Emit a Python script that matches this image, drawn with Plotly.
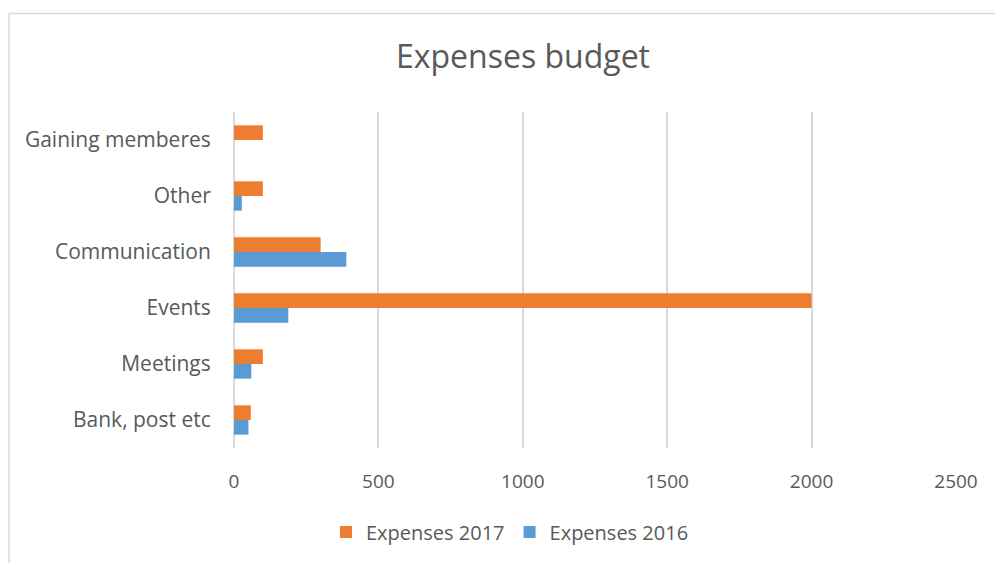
import plotly.graph_objects as go

# Expense categories (bottom to top) and yearly amounts
categories = ["Bank, post etc", "Meetings", "Events", "Communication", "Other", "Gaining memberes"]
expenses_2016 = [50, 60, 188, 389, 27, 0]
expenses_2017 = [58, 100, 2000, 300, 100, 100]
x_ticks = [0, 500, 1000, 1500, 2000, 2500]

W, H = 995, 563
L, R, T, B = 234, 39, 112, 115
pw, ph = W - L - R, H - T - B

text_col = "#595959"
grid_col = "#D9D9D9"
font_family = "Open Sans"

fig = go.Figure()
fig.add_trace(go.Bar(
    y=categories, x=expenses_2016, orientation="h", name="Expenses 2016",
    marker=dict(color="#5B9BD5", line=dict(width=0)),
))
fig.add_trace(go.Bar(
    y=categories, x=expenses_2017, orientation="h", name="Expenses 2017",
    marker=dict(color="#ED7D31", line=dict(width=0)),
))

# Outer chart frame (left and top edges visible)
fx0 = (9 - L) / pw
fy1 = (H - B - 13.5) / ph
fig.add_shape(type="line", xref="paper", yref="paper", x0=fx0, x1=fx0, y0=-1, y1=fy1,
              line=dict(color=grid_col, width=1.5))
fig.add_shape(type="line", xref="paper", yref="paper", x0=fx0, x1=2, y0=fy1, y1=fy1,
              line=dict(color=grid_col, width=1.5))

fig.update_layout(
    width=W, height=H,
    margin=dict(l=L, r=R, t=T, b=B),
    paper_bgcolor="white", plot_bgcolor="white",
    barmode="group", bargap=0.475, bargroupgap=0,
    font=dict(family=font_family, size=20, color=text_col),
    title=dict(text="Expenses budget", x=523 / W, xanchor="center",
               y=1 - 57 / H, yanchor="middle",
               font=dict(family=font_family, size=32, color=text_col)),
    legend=dict(orientation="h", traceorder="reversed",
                x=510 / W, xref="container", xanchor="center",
                y=1 - 532 / H, yref="container", yanchor="middle",
                font=dict(size=20, color=text_col), itemwidth=30,
                itemsizing="constant"),
    xaxis=dict(range=[0, 2500], tickvals=x_ticks, showgrid=True,
               gridcolor=grid_col, gridwidth=1.5, zeroline=True,
               zerolinecolor=grid_col, zerolinewidth=1.5,
               showline=False, ticks="outside", ticklen=16,
               tickcolor="rgba(0,0,0,0)", tickfont=dict(size=19),
               fixedrange=True),
    yaxis=dict(showgrid=False, showline=False, zeroline=False,
               ticks="outside", ticklen=18, tickcolor="rgba(0,0,0,0)",
               tickfont=dict(size=21),
               categoryorder="array", categoryarray=categories),
)

fig.write_html("out.html")
